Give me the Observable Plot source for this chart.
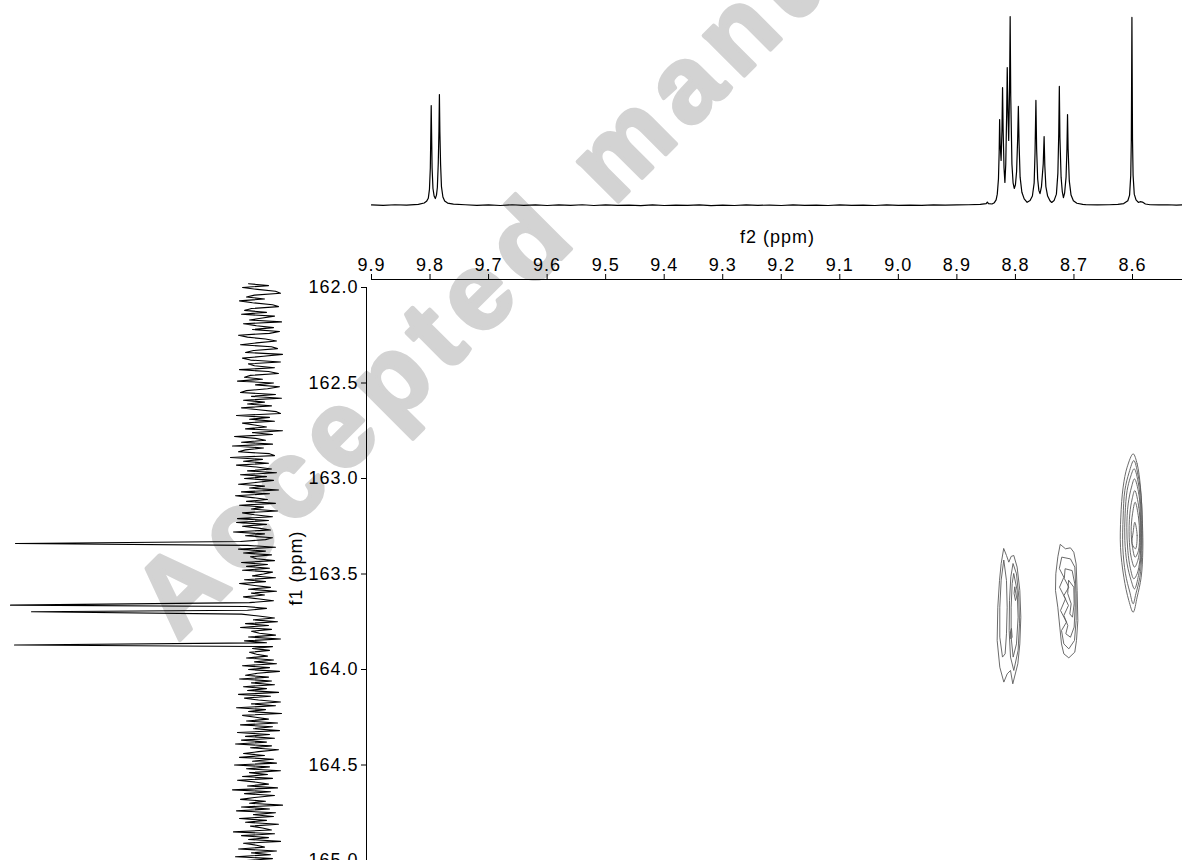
<!DOCTYPE html>
<html>
<head>
<meta charset="utf-8">
<script src="https://cdn.jsdelivr.net/npm/d3@7"></script>
<script src="https://cdn.jsdelivr.net/npm/@observablehq/plot@0.6"></script>
<style>
  html, body { margin: 0; padding: 0; background: white; }
  #chart { position: relative; width: 1182px; height: 860px; overflow: hidden; }
  #chart > svg, #chart > figure { position: absolute; left: 0; top: 0; margin: 0; }
</style>
</head>
<body>
<div id="chart"></div>
<script>
// ---------------- DATA ----------------
const f2Domain = [9.9, 8.5146];          // 1H axis (ppm), left to right
const f1Domain = [162.0, 165.0];         // 13C axis (ppm), top to bottom
const f2Ticks = [9.9, 9.8, 9.7, 9.6, 9.5, 9.4, 9.3, 9.2, 9.1, 9.0, 8.9, 8.8, 8.7, 8.6];
const f1Ticks = [162.0, 162.5, 163.0, 163.5, 164.0, 164.5, 165.0];
const f2Label = "f2 (ppm)";
const f1Label = "f1 (ppm)";
const watermark = "Accepted manuscript";

// 1H projection (ppm, relative intensity)
const topSpectrum = [
  [9.90,0.3],[9.88,0.1],[9.86,0.4],[9.84,0.2],[9.82,0.6],[9.81,1.3],[9.806,2.2],[9.803,3.8],
  [9.801,8.5],[9.7995,20],[9.7988,35],[9.798,52.9],[9.7972,35],[9.7965,20],[9.795,9],[9.793,5],
  [9.791,3.7],[9.789,5.5],[9.7875,9.5],[9.786,22],[9.7848,39],[9.784,58.7],[9.7832,39],[9.782,22],
  [9.7805,10],[9.778,4.5],[9.775,2.4],[9.770,1.3],[9.76,0.7],
  [9.74,0.4],[9.72,0.1],[9.70,0.3],[9.68,0.0],[9.66,0.4],[9.64,0.1],[9.62,0.3],[9.60,0.0],
  [9.58,0.3],[9.56,0.1],[9.54,0.4],[9.52,0.0],[9.50,0.3],[9.48,0.1],[9.46,0.2],[9.44,-0.1],
  [9.42,0.3],[9.40,0.0],[9.38,0.2],[9.36,0.1],[9.34,0.3],[9.32,-0.1],[9.30,0.2],[9.28,0.0],
  [9.26,0.3],[9.24,0.1],[9.22,0.2],[9.20,0.0],[9.18,0.3],[9.16,0.1],[9.14,0.2],[9.12,0.0],
  [9.10,0.3],[9.08,0.1],[9.06,0.2],[9.04,0.0],[9.02,0.3],[9.00,0.1],[8.98,0.2],[8.96,0.1],
  [8.94,0.3],[8.92,0.2],[8.90,0.3],[8.88,0.4],[8.86,0.6],[8.850,1.0],[8.848,1.8],[8.846,1.0],
  [8.840,0.8],[8.836,1.5],[8.833,3],[8.831,6],[8.829,14],[8.8278,28],[8.827,45.5],[8.826,32],
  [8.8245,23.8],[8.823,40],[8.822,62.4],[8.821,40],[8.8195,20],[8.818,12.2],[8.8165,22],[8.815,48],
  [8.814,73.0],[8.8128,50],[8.8115,34.4],[8.810,62],[8.809,100],[8.808,58],[8.806,22],[8.804,12],
  [8.802,9.0],[8.800,11],[8.798,18],[8.7962,35],[8.795,52.4],[8.7938,33],[8.792,15],[8.789,7],
  [8.785,3.5],[8.780,1.7],[8.775,2.6],[8.771,5],[8.768,12],[8.7665,28],[8.765,55.6],[8.7638,30],
  [8.762,14],[8.760,8],[8.758,6.3],[8.7555,10],[8.7525,22],[8.751,36.5],[8.7498,21],[8.748,10],
  [8.745,5],[8.741,2.5],[8.738,1.6],[8.734,2.6],[8.730,6],[8.7275,17],[8.726,38],[8.725,63.0],
  [8.724,36],[8.722,15],[8.720,7.5],[8.718,4.2],[8.716,6.5],[8.7135,15],[8.712,30],[8.711,48.1],
  [8.710,30],[8.708,13],[8.705,5.5],[8.701,2.5],[8.695,1.2],[8.685,0.6],[8.68,0.5],[8.66,0.3],
  [8.64,0.4],[8.625,0.6],[8.615,1.0],[8.608,2.5],[8.605,5.5],[8.603,16],[8.602,35],[8.601,99.5],
  [8.600,35],[8.599,16],[8.597,6],[8.594,3],[8.590,1.6],[8.587,2.0],[8.583,1.8],[8.578,0.8],
  [8.570,0.4],[8.555,0.3],[8.540,0.4],[8.525,0.2],[8.5146,0.3]
];

// 13C projection: noise samples from 161.98 ppm every 0.01 ppm, plus peaks (ppm, intensity)
const leftNoiseStart = 161.98;
const leftNoiseStep = 0.01;
const leftNoise = [
  12,-8,18,3,-15,-20,6,14,-4,21,8,-12,-18,9,16,-6,19,-14,-2,11,
  -21,17,4,-13,8,-19,-9,22,13,-5,-16,4,20,-11,-17,7,15,-22,-3,18,
  10,-20,12,6,-14,21,-8,-18,10,16,-2,23,-13,5,-19,-7,14,20,-15,9,
  -21,17,-4,13,-11,19,2,-16,-20,24,-9,11,-14,18,6,-6,15,-22,8,-12,
  26,5,-5,19,-12,28,-3,15,22,-9,-14,30,-2,17,-8,24,4,-11,13,-16,
  20,-6,16,-13,3,22,-4,11,-18,19,-9,25,8,-7,14,-15,21,-3,9,-17,
  18,6,-12,23,-8,24,-6,18,2,-10,27,-4,15,-12,-5,20,-8,13,-15,22,
  -5,17,-11,10,4,-14,19,-7,14,-9,18,-12,-3,8,-15,16,-5,21,6,-10,
  12,-16,9,-4,17,3,-13,11,-18,15,-6,13,-10,19,2,-14,7,-17,15,-8,
  20,-11,9,1,-15,12,-20,16,-6,10,-12,8,-9,11,4,-7,14,-13,6,-16,
  18,-9,12,-19,3,15,-8,21,-11,9,-14,17,-6,13,-18,22,-10,16,2,-20,
  9,-15,24,-5,12,-21,18,5,-8,14,-17,20,-12,7,-19,23,-9,15,-14,19,
  -6,25,-11,10,-18,2,17,-4,21,-13,8,-16,26,-9,14,-20,11,-7,18,-12,
  23,4,-8,13,-17,28,-10,16,-14,6,20,-5,11,-22,19,-9,24,-15,7,-13,
  21,-6,15,-18,10,-2,-11,27,-14,19,-8,12,-20,17,4,-4,22,-16,9,-10,
  25,-12,14
];
const leftPeaks = [[163.340,245],[163.663,250],[163.698,229],[163.872,246]];

// HMBC cross-peak contour rings [f2, f1]
const contourSmooth = [ // cross peak at 8.60 / 163.34
  [[8.5989,162.871],[8.5921,162.923],[8.5864,163.045],[8.5830,163.237],[8.5824,163.377],[8.5852,163.517],[8.5921,163.621],[8.5989,163.700],[8.6063,163.639],[8.6148,163.517],[8.6205,163.360],[8.6200,163.202],[8.6160,163.045],[8.6092,162.941]],
  [[8.5978,162.906],[8.5909,162.976],[8.5852,163.098],[8.5835,163.255],[8.5841,163.394],[8.5875,163.517],[8.5943,163.604],[8.5989,163.656],[8.6046,163.595],[8.6120,163.499],[8.6166,163.360],[8.6160,163.202],[8.6131,163.063],[8.6057,162.967]],
  [[8.5972,162.949],[8.5898,163.028],[8.5858,163.150],[8.5847,163.290],[8.5858,163.412],[8.5898,163.508],[8.5966,163.578],[8.6023,163.534],[8.6092,163.447],[8.6131,163.325],[8.6126,163.185],[8.6092,163.063],[8.6035,162.993]],
  [[8.5966,163.002],[8.5892,163.080],[8.5864,163.202],[8.5858,163.325],[8.5875,163.429],[8.5921,163.499],[8.5978,163.525],[8.6035,163.473],[8.6080,163.377],[8.6097,163.255],[8.6074,163.133],[8.6017,163.045]],
  [[8.5961,163.063],[8.5892,163.150],[8.5869,163.255],[8.5875,163.360],[8.5909,163.429],[8.5966,163.464],[8.6023,163.412],[8.6057,163.307],[8.6046,163.185],[8.6006,163.107]],
  [[8.5955,163.124],[8.5898,163.202],[8.5881,163.290],[8.5898,163.377],[8.5955,163.412],[8.6000,163.360],[8.6023,163.272],[8.6000,163.185]],
  [[8.5961,163.229],[8.5921,163.298],[8.5949,163.368],[8.6006,163.342],[8.5989,163.281]]
];
const contourJagged = [ // cross peaks at 8.71 and 8.81
  [[8.7230,163.346],[8.7145,163.368],[8.7060,163.363],[8.7003,163.386],[8.6963,163.447],[8.6946,163.586],[8.6934,163.744],[8.6957,163.848],[8.6986,163.909],[8.7088,163.939],[8.7173,163.918],[8.7213,163.866],[8.7242,163.778],[8.7276,163.674],[8.7316,163.586],[8.7310,163.499],[8.7276,163.412]],
  [[8.7202,163.412],[8.7060,163.421],[8.6986,163.464],[8.6963,163.604],[8.6963,163.744],[8.6991,163.848],[8.7088,163.892],[8.7173,163.866],[8.7213,163.796],[8.7128,163.752],[8.7230,163.691],[8.7145,163.630],[8.7247,163.569],[8.7173,163.517],[8.7247,163.473]],
  [[8.7145,163.473],[8.7031,163.482],[8.6986,163.552],[8.6980,163.674],[8.6997,163.778],[8.7060,163.831],[8.7139,163.813],[8.7105,163.770],[8.7173,163.717],[8.7094,163.665],[8.7173,163.613],[8.7088,163.569],[8.7162,163.525]],
  [[8.7088,163.534],[8.7003,163.569],[8.6997,163.656],[8.7025,163.726],[8.7071,163.709],[8.7048,163.656],[8.7105,163.604]],
  [[8.8198,163.368],[8.8153,163.403],[8.8113,163.438],[8.8073,163.408],[8.8028,163.403],[8.7971,163.464],[8.7925,163.586],[8.7908,163.726],[8.7925,163.866],[8.7959,163.970],[8.8045,164.075],[8.8084,164.005],[8.8141,164.023],[8.8198,164.066],[8.8267,163.988],[8.8312,163.848],[8.8301,163.674],[8.8272,163.534],[8.8244,163.447]],
  [[8.8198,163.429],[8.8153,163.534],[8.8141,163.674],[8.8153,163.813],[8.8176,163.918],[8.8221,163.935],[8.8267,163.831],[8.8267,163.674],[8.8244,163.534]],
  [[8.8039,163.447],[8.7982,163.499],[8.7942,163.621],[8.7931,163.761],[8.7954,163.900],[8.8028,164.005],[8.8084,163.935],[8.8107,163.796],[8.8101,163.639],[8.8079,163.517]],
  [[8.8028,163.499],[8.7971,163.586],[8.7954,163.726],[8.7982,163.866],[8.8039,163.935],[8.8073,163.831],[8.8073,163.674],[8.8056,163.552]],
  [[8.8010,163.569],[8.7982,163.621],[8.7999,163.639],[8.8022,163.604]],
  [[8.8067,163.787],[8.8056,163.831],[8.8079,163.839],[8.8084,163.805]]
];

// ---------------- BUILD ----------------
const fontStack = "'Liberation Sans', Arial, Helvetica, sans-serif";
const baseStyle = {background: "transparent", fontFamily: fontStack, fontSize: "18px", color: "black", overflow: "visible"};

const topRows = topSpectrum.map(([ppm, v]) => ({ppm, v}));
const ringRows = (rings, tag) => rings.flatMap((pts, k) => pts.map(([f2, f1]) => ({ring: tag + k, f2, f1})));
const smoothRows = ringRows(contourSmooth, "s");
const jaggedRows = ringRows(contourJagged, "j");

const noiseRows = leftNoise.map((v, k) => ({f1: leftNoiseStart + k * leftNoiseStep, v}))
  .filter(d => !leftPeaks.some(([p]) => Math.abs(p - d.f1) < 0.004));
const leftRows = noiseRows.concat(leftPeaks.map(([f1, v]) => ({f1, v})))
  .sort((a, b) => a.f1 - b.f1);

const chartDiv = document.getElementById("chart");

// watermark (behind everything)
const svgNS = "http://www.w3.org/2000/svg";
const wmSvg = document.createElementNS(svgNS, "svg");
wmSvg.setAttribute("width", 1182); wmSvg.setAttribute("height", 860);
const wmText = document.createElementNS(svgNS, "text");
wmText.setAttribute("transform", "translate(178,642) rotate(-45)");
wmText.setAttribute("font-family", fontStack);
wmText.setAttribute("font-weight", "bold");
wmText.setAttribute("font-size", "108");
wmText.setAttribute("letter-spacing", "11");
wmText.setAttribute("fill", "#d3d3d3");
wmText.setAttribute("stroke", "#d3d3d3");
wmText.setAttribute("stroke-width", "4");
wmText.setAttribute("stroke-linejoin", "round");
wmText.textContent = watermark;
wmSvg.appendChild(wmText);
chartDiv.appendChild(wmSvg);

// top 1H projection
const topPlot = Plot.plot({
  width: 1182, height: 220,
  marginLeft: 371, marginRight: 0, marginTop: 0, marginBottom: 0,
  x: {domain: f2Domain, axis: null},
  y: {domain: [-7.94, 108.47], axis: null},
  style: baseStyle,
  marks: [Plot.line(topRows, {x: "ppm", y: "v", stroke: "black", strokeWidth: 1.2})]
});
chartDiv.appendChild(topPlot);

// left 13C projection
const leftPlot = Plot.plot({
  width: 300, height: 860,
  marginLeft: 0, marginRight: 0, marginTop: 0, marginBottom: 0,
  x: {domain: [260, -40], range: [0, 300], axis: null},
  y: {domain: f1Domain, range: [287, 860], axis: null},
  style: baseStyle,
  marks: [Plot.line(leftRows, {x: "v", y: "f1", stroke: "black", strokeWidth: 1.1})]
});
chartDiv.appendChild(leftPlot);

// main 2D panel
const mainPlot = Plot.plot({
  width: 1182, height: 860,
  marginLeft: 366, marginTop: 279, marginRight: 0, marginBottom: 0,
  insetLeft: 5, insetTop: 8,
  x: {domain: f2Domain},
  y: {domain: f1Domain, reverse: true},
  style: {...baseStyle, letterSpacing: "1px"},
  marks: [
    Plot.frame({anchor: "top", insetLeft: 5, stroke: "black"}),
    Plot.frame({anchor: "left", insetTop: 8, stroke: "black"}),
    Plot.axisX(f2Ticks, {anchor: "top", tickSize: 6, tickPadding: 3, tickFormat: d => d.toFixed(1), label: null, fontSize: 18}),
    Plot.axisY(f1Ticks, {anchor: "left", tickSize: 5, tickPadding: 3, tickFormat: d => d.toFixed(1), label: null, fontSize: 18}),
    Plot.text([f2Label], {frameAnchor: "top", dx: 3, dy: -42, textAnchor: "middle", lineAnchor: "middle", fontSize: 18}),
    Plot.text([f1Label], {frameAnchor: "left", dx: -70, dy: -2, rotate: -90, textAnchor: "middle", lineAnchor: "middle", fontSize: 18}),
    Plot.line(smoothRows, {x: "f2", y: "f1", z: "ring", curve: "catmull-rom-closed", stroke: "#5a5a5a", strokeWidth: 0.9}),
    Plot.line(jaggedRows, {x: "f2", y: "f1", z: "ring", curve: "linear-closed", stroke: "#5a5a5a", strokeWidth: 0.9})
  ]
});
chartDiv.appendChild(mainPlot);
</script>
</body>
</html>
